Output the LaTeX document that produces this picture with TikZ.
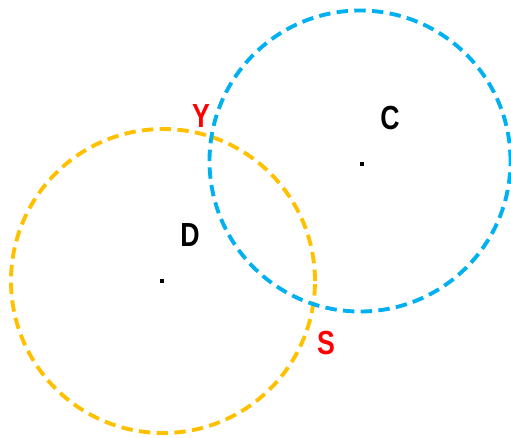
\documentclass[tikz,border=0pt]{standalone}
\usepackage{fontspec}
\setmainfont{Liberation Sans}
\definecolor{ringorange}{HTML}{FFC000}
\definecolor{ringblue}{HTML}{00B0F0}
\definecolor{ptred}{HTML}{FF0000}

\begin{document}
\begin{tikzpicture}
        \useasboundingbox (0,0) rectangle (10.22,8.74);
        \tikzset{
            ring/.style={line width=2.2pt, dash pattern=on 6.5pt off 3.6pt},
            lbl/.style={font=\bfseries\fontsize{19}{22}\selectfont, xscale=0.8, inner sep=0pt},
            ctr/.style={fill=black, inner sep=0pt, minimum size=2.4pt}
        }
        % Draw circles
        \coordinate (dc) at (3.26,3.12);
        \coordinate (cc) at (7.20,5.52);
        \draw[ring, ringorange] (dc) circle (3.04);
        \draw[ring, ringblue] (cc) circle (3.01);
        
        % Draw centres
        \node[ctr] (dpt) at (3.24,3.12) {};
        \node[ctr] (cpt) at (7.24,5.46) {};
        
        % Draw labels
        \node[lbl] (D) at (3.80,4.04) {D};
        \node[lbl] (C) at (7.80,6.38) {C};
        \node[lbl, ptred] (Y) at (4.02,6.42) {Y};
        \node[lbl, ptred] (S) at (6.52,1.88) {S};
    \end{tikzpicture}
\end{document}
